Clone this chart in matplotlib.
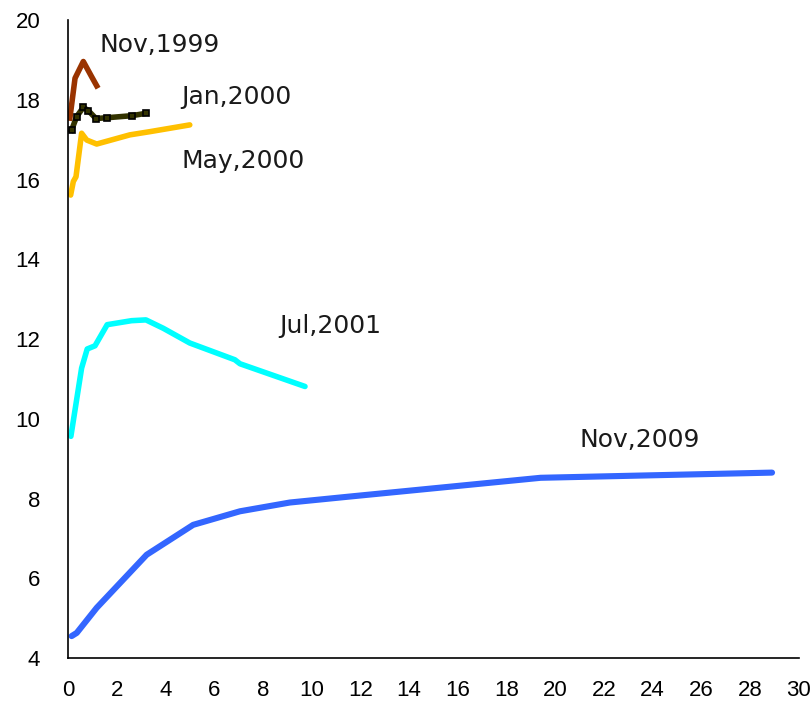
import matplotlib
matplotlib.use("Agg")
import matplotlib.pyplot as plt

# Nov,1999
nov99_x = [0.08, 0.29, 0.63, 0.97, 1.18]
nov99_y = [17.54, 18.54, 18.96, 18.58, 18.35]
# Jan,2000
jan00_x = [0.15, 0.36, 0.63, 0.83, 1.15, 1.61, 2.61, 3.2]
jan00_y = [17.24, 17.58, 17.81, 17.73, 17.53, 17.55, 17.6, 17.66]
# May,2000
may00_x = [0.11, 0.22, 0.33, 0.56, 0.77, 1.18, 2.54, 3.36, 5.0]
may00_y = [15.61, 15.95, 16.07, 17.16, 16.99, 16.89, 17.12, 17.2, 17.37]
# Jul,2001
jul01_x = [0.12, 0.56, 0.79, 1.11, 1.61, 2.61, 3.2, 3.91, 5.0, 6.85, 7.06, 9.73]
jul01_y = [9.56, 11.27, 11.75, 11.83, 12.36, 12.46, 12.48, 12.27, 11.9, 11.48, 11.38, 10.81]
# Nov,2009
nov09_x = [0.15, 0.36, 1.18, 3.23, 5.14, 7.06, 9.11, 11.57, 19.4, 28.9]
nov09_y = [4.55, 4.63, 5.26, 6.59, 7.34, 7.68, 7.90, 8.05, 8.52, 8.65]

labels = ["Nov,1999", "Jan,2000", "May,2000", "Jul,2001", "Nov,2009"]
label_x = [1.31, 4.64, 4.64, 8.66, 21.0]
label_y = [19.37, 18.07, 16.47, 12.33, 9.47]

xticks = list(range(0, 31, 2))
yticks = list(range(4, 21, 2))

fig = plt.figure(figsize=(8.11, 7.10), dpi=100)
ax = fig.add_axes([0.0838, 0.0732, 0.9012, 0.8986])

ax.plot(nov09_x, nov09_y, color="#3366FF", lw=4.4, solid_capstyle="round")
ax.plot(jul01_x, jul01_y, color="#00FFFF", lw=4.0, solid_capstyle="round")
ax.plot(may00_x, may00_y, color="#FFC000", lw=4.0, solid_capstyle="round")
ax.plot(nov99_x, nov99_y, color="#993300", lw=4.0)
ax.plot(jan00_x, jan00_y, color="#333300", lw=4.0, marker="s", ms=4.5,
        mfc="#333300", mec="black", mew=1.2)

for t, x, y in zip(labels, label_x, label_y):
    ax.text(x, y, t, fontsize=18, family=["DejaVu Sans"],
            color="#1a1a1a", ha="left", va="center")

ax.set_xlim(0, 30)
ax.set_ylim(4, 20)
tick_font = dict(fontsize=16, family=["Liberation Sans", "DejaVu Sans"])
ax.set_xticks(xticks, labels=[str(v) for v in xticks], **tick_font)
ax.set_yticks(yticks, labels=[str(v) for v in yticks], **tick_font)
ax.tick_params(axis="x", length=0, pad=16)
ax.tick_params(axis="y", length=0, pad=20)
ax.spines["top"].set_visible(False)
ax.spines["right"].set_visible(False)
ax.spines["left"].set_linewidth(1.2)
ax.spines["bottom"].set_linewidth(1.2)

fig.savefig("out.png", dpi=100)
